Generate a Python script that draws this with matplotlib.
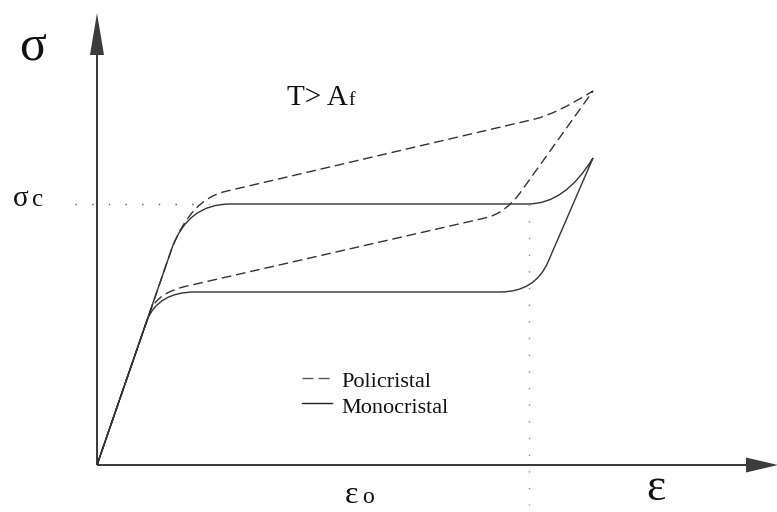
import matplotlib
matplotlib.use('Agg')
import matplotlib.pyplot as plt
from matplotlib.path import Path
from matplotlib.patches import PathPatch

plt.rcParams['font.family'] = ['Liberation Serif', 'DejaVu Serif']

# ---- data (strain, stress in arbitrary schematic units) ----
# path steps: M = start, L = straight segment, Q = quadratic bend (control, end)
mono_strain = [0, 75, 91, 133, 431, 468, 496, 451, 438, 403, 98, 61.5, 50.1, 0]
mono_stress = [0, 217, 261, 261, 261, 261, 307, 203, 173, 173, 173, 173, 145, 0]
mono_steps = ['M', 'L', 'Q', 'Q', 'L', 'Q', 'Q', 'L', 'Q', 'Q', 'L', 'Q', 'Q', 'L']

poly_strain = [0, 75, 94, 128, 438, 459, 496, 423, 408, 388, 88, 61, 53.6, 0]
poly_stress = [0, 217, 265.5, 273.5, 346, 351, 374, 272, 251.5, 247, 178.5, 172, 155, 0]
poly_steps = ['M', 'L', 'Q', 'Q', 'L', 'Q', 'Q', 'L', 'Q', 'Q', 'L', 'Q', 'Q', 'L']

sigma_c = 261      # critical stress (upper plateau)
eps_0 = 432        # strain mark
series_labels = ['Policristal', 'Monocristal']

CODE = {'M': Path.MOVETO, 'L': Path.LINETO, 'Q': Path.CURVE3}

fig = plt.figure(figsize=(7.77, 5.12), dpi=100)
ax = fig.add_axes([0, 0, 1, 1])
ax.set_xlim(-97, 680)
ax.set_ylim(-47, 465)
ax.axis('off')

curve_col = '#333333'
axis_col = '#3c3c3c'

# axes arrows
ax.arrow(0, 0, 0, 452, width=2.0, head_width=14, head_length=42,
         length_includes_head=True, color=axis_col, lw=0)
ax.arrow(0, 0, 681, 0, width=2.0, head_width=15, head_length=32,
         length_includes_head=True, color=axis_col, lw=0)

# dotted guide lines
ax.plot([-22, 112], [sigma_c, sigma_c], color='#555555', lw=1.0,
        linestyle=(0, (1, 11)))
ax.plot([eps_0, eps_0], [sigma_c, -40], color='#888888', lw=1.0,
        linestyle=(0, (1, 11)))

def make_path(xs, ys, steps):
    return Path(list(zip(xs, ys)), [CODE[s] for s in steps])

ax.add_patch(PathPatch(make_path(poly_strain, poly_stress, poly_steps),
                       fill=False, edgecolor=curve_col, lw=1.0,
                       linestyle=(0, (7, 3.5))))
ax.add_patch(PathPatch(make_path(mono_strain, mono_stress, mono_steps),
                       fill=False, edgecolor=curve_col, lw=1.0))

# legend (manual)
ax.plot([205, 235], [87, 87], color='#555555', lw=1.0, linestyle=(0, (8, 3.5)))
ax.plot([205, 235], [62, 62], color='#222222', lw=1.0)
ax.text(244, 78, series_labels[0], fontsize=16, va='baseline', ha='left', color='#111111')
ax.text(244, 52, series_labels[1], fontsize=16, va='baseline', ha='left', color='#111111')

# labels
txt = '#111111'
ax.text(-78, 405, 'σ', fontsize=36, va='baseline', ha='left', color=txt)
ax.text(-84, 259, 'σ', fontsize=21, va='baseline', ha='left', color=txt)
ax.text(-65, 259, 'c', fontsize=18, va='baseline', ha='left', color=txt)
ax.text(190, 360, 'T> A', fontsize=21, va='baseline', ha='left', color=txt)
ax.text(251, 360, 'f', fontsize=14, va='baseline', ha='left', color=txt)
ax.text(248, -38, 'ε', fontsize=23, va='baseline', ha='left', color=txt)
ax.text(265, -38, 'o', fontsize=17, va='baseline', ha='left', color=txt)
ax.text(549, -35, 'ε', fontsize=33, va='baseline', ha='left', color=txt)

fig.savefig('out.png', dpi=100, facecolor='white')
